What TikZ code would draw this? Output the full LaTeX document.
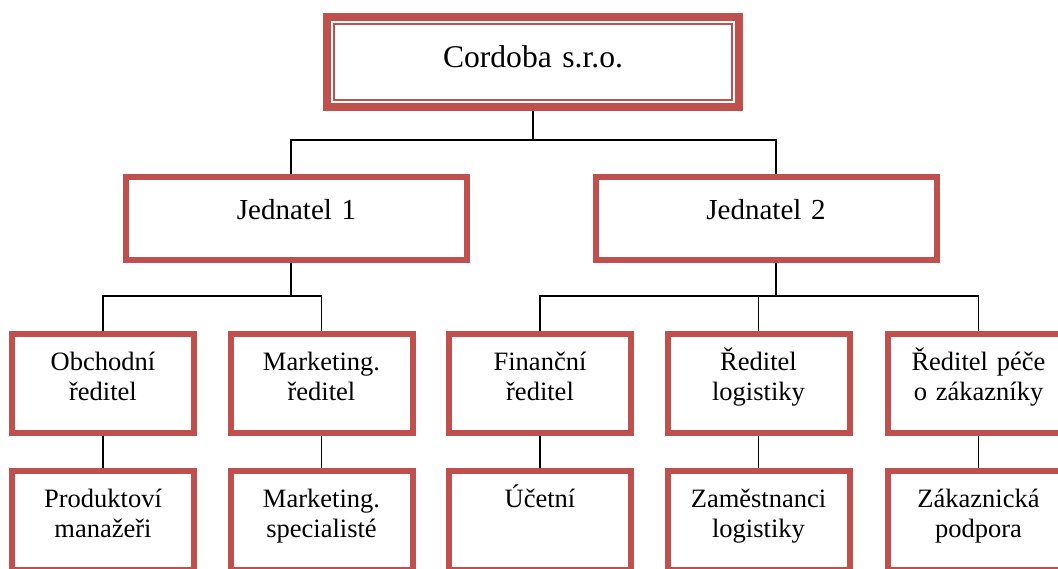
\documentclass[tikz,border=0pt]{standalone}
\usepackage{fontspec}
\setmainfont{Liberation Serif}
\usepackage{xcolor}
\definecolor{boxRed}{RGB}{192,80,77}

\begin{document}
\begin{tikzpicture}[x=1pt, y=-1pt,
    every node/.style={align=center, inner sep=0pt},
    topbox/.style={draw=boxRed, line width=7.5pt, text width=412pt, text height=50pt, text depth=40pt, font=\fontsize{31.6}{36}\selectfont},
    midbox/.style={draw=boxRed, line width=6pt, text width=341pt, text height=42pt, text depth=41pt, font=\fontsize{29}{33}\selectfont},
    lowbox/.style={draw=boxRed, line width=6pt, text width=182pt, text height=36pt, text depth=63pt, font=\fontsize{26.5}{30.5}\selectfont},
    conn/.style={line width=1.8pt}]
\useasboundingbox (0,0) rectangle (1058,568);
\fill[white] (0,0) rectangle (1058,568);
\clip (0,0) rectangle (1058,568);

% Top
\node[topbox, anchor=base] (firm) at (533,67) {Cordoba s.r.o.};
\draw[boxRed, line width=2.3pt] ([shift={(10.8pt,-10.8pt)}]firm.north west) rectangle ([shift={(-10.8pt,10.8pt)}]firm.south east);

% Jednatele
\node[midbox, anchor=base] (jed1) at (296.5,219) {Jednatel 1};
\node[midbox, anchor=base] (jed2) at (766,219) {Jednatel 2};

% Reditele
\node[lowbox, anchor=base] (obch) at (103,370) {Obchodní\\ředitel};
\node[lowbox, anchor=base] (mark) at (321.5,370) {Marketing.\\ředitel};
\node[lowbox, anchor=base] (fin) at (540,370) {Finanční\\ředitel};
\node[lowbox, anchor=base] (log) at (758.5,370) {Ředitel\\logistiky};
\node[lowbox, anchor=base] (pece) at (978.5,370) {Ředitel péče\\o zákazníky};

% Zamestnanci
\node[lowbox, anchor=base] (prod) at (103,507) {Produktoví\\manažeři};
\node[lowbox, anchor=base] (spec) at (321.5,507) {Marketing.\\specialisté};
\node[lowbox, anchor=base] (ucet) at (540,507) {Účetní};
\node[lowbox, anchor=base] (zlog) at (758.5,507) {Zaměstnanci\\logistiky};
\node[lowbox, anchor=base] (podp) at (978.5,507) {Zákaznická\\podpora};

% Connectors
\draw[conn] (firm.south) -- ++(0,29) -| ([xshift=-5.5pt]jed1.north);
\draw[conn] (firm.south) ++(0,29) -| ([xshift=10pt]jed2.north);
\draw[conn] ([xshift=-5.5pt]jed1.south) -- ++(0,33) -| (obch.north);
\draw[conn] ([xshift=-5.5pt]jed1.south) ++(0,33) -| (mark.north);
\draw[conn] ([xshift=10pt]jed2.south) -- ++(0,33) -| (fin.north);
\draw[conn] ([xshift=10pt]jed2.south) ++(0,33) -| (log.north);
\draw[conn] ([xshift=10pt]jed2.south) ++(0,33) -| (pece.north);
\draw[conn] (obch.south) -- (prod.north);
\draw[conn] (mark.south) -- (spec.north);
\draw[conn] (fin.south) -- (ucet.north);
\draw[conn] (log.south) -- (zlog.north);
\draw[conn] (pece.south) -- (podp.north);
\end{tikzpicture}
\end{document}
